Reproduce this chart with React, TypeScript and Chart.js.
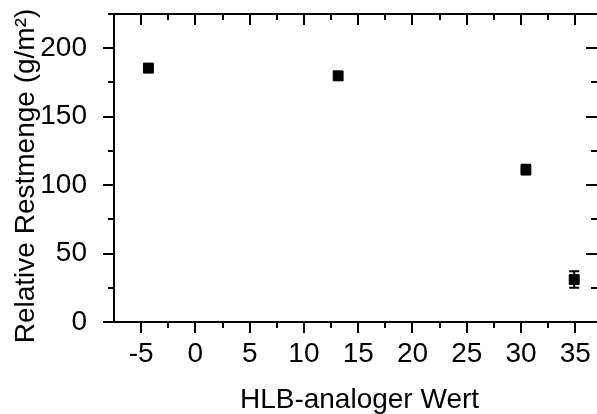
import React, { useEffect, useRef } from "react";
import { Chart, registerables } from "chart.js";

Chart.register(...registerables);

const xValues = [-4.33, 13.15, 30.45, 34.9];
const yValues = [185.5, 179.8, 111.3, 31.0];
const yErrors = [3, 3, 3.5, 6];
const xTickLabels = [-5, 0, 5, 10, 15, 20, 25, 30, 35];
const yTickLabels = [0, 50, 100, 150, 200];
const xTitle = "HLB-analoger Wert";
const yTitle = "Relative Restmenge (g/m²)";
const xMin = -7.5, xMax = 37, xStep = 2.5;
const yMin = 0, yMax = 225, yStep = 25;

const FONT = "'Liberation Sans', Arial, sans-serif";

const framePlugin = {
  id: "frame",
  afterDatasetsDraw(chart: any) {
    const { ctx, chartArea: a, scales } = chart;
    const xs = scales.x, ys = scales.y;
    ctx.save();
    ctx.strokeStyle = "#000";
    ctx.fillStyle = "#000";
    ctx.lineWidth = 2;
    // error bars
    const meta = chart.getDatasetMeta(0);
    meta.data.forEach((pt: any, i: number) => {
      const px = pt.x;
      const yT = ys.getPixelForValue(yValues[i] + yErrors[i]);
      const yB = ys.getPixelForValue(yValues[i] - yErrors[i]);
      ctx.beginPath();
      ctx.moveTo(px, yT); ctx.lineTo(px, yB);
      ctx.moveTo(px - 5, yT); ctx.lineTo(px + 5, yT);
      ctx.moveTo(px - 5, yB); ctx.lineTo(px + 5, yB);
      ctx.stroke();
    });
    // frame
    ctx.beginPath();
    ctx.moveTo(a.left, a.top); ctx.lineTo(a.right + 2, a.top);
    ctx.moveTo(a.left, a.top); ctx.lineTo(a.left, a.bottom);
    ctx.moveTo(a.left - 1, a.bottom); ctx.lineTo(a.right + 2, a.bottom);
    ctx.stroke();
    // x ticks
    for (let v = -5; v <= xMax + 1e-6; v += xStep) {
      const px = Math.round(xs.getPixelForValue(v));
      const major = Math.abs(v % 5) < 1e-6;
      const len = major ? 11 : 6;
      ctx.beginPath();
      ctx.moveTo(px, a.bottom); ctx.lineTo(px, a.bottom + len);
      ctx.moveTo(px, a.top); ctx.lineTo(px, a.top + len);
      ctx.stroke();
    }
    // y ticks
    for (let v = yMin; v <= yMax + 1e-6; v += yStep) {
      const py = Math.round(ys.getPixelForValue(v));
      const major = Math.abs(v % 50) < 1e-6;
      const len = major ? 11 : 6;
      ctx.beginPath();
      ctx.moveTo(a.left, py); ctx.lineTo(a.left - len, py);
      ctx.moveTo(a.right, py); ctx.lineTo(a.right - len, py);
      ctx.stroke();
    }
    // titles
    ctx.font = `28px ${FONT}`;
    ctx.textAlign = "center";
    ctx.textBaseline = "alphabetic";
    ctx.fillText(xTitle, (a.left + a.right) / 2 + 4, 408);
    ctx.save();
    ctx.translate(34, 176);
    ctx.rotate(-Math.PI / 2);
    ctx.font = `28px ${FONT}`;
    ctx.fillText(yTitle, 0, 0);
    ctx.restore();
    ctx.restore();
  },
};

export default function App() {
  const ref = useRef<HTMLCanvasElement>(null);
  useEffect(() => {
    document.body.style.margin = "0";
    const chart = new Chart(ref.current!, {
      type: "scatter",
      data: {
        datasets: [
          {
            data: xValues.map((x, i) => ({ x, y: yValues[i] })),
            pointStyle: "rect",
            pointRadius: 7,
            backgroundColor: "#000",
            borderColor: "#000",
            borderWidth: 1,
          },
        ],
      },
      options: {
        animation: false,
        responsive: false,
        maintainAspectRatio: false,
        layout: { autoPadding: false, padding: { top: 14, right: 0, left: 0, bottom: 0 } },
        plugins: { legend: { display: false }, tooltip: { enabled: false } },
        scales: {
          x: {
            type: "linear",
            min: xMin,
            max: xMax,
            grid: { display: false },
            border: { display: false },
            afterBuildTicks: (s: any) => { s.ticks = xTickLabels.map((value) => ({ value })); },
            ticks: {
              padding: 7,
              color: "#000",
              font: { family: FONT, size: 28 },
            },
            afterFit: (s: any) => {
              s.height = 92;
              s.paddingLeft = 0; s.paddingRight = 0; s.paddingTop = 0; s.paddingBottom = 0;
            },
          },
          y: {
            type: "linear",
            min: yMin,
            max: yMax,
            grid: { display: false },
            border: { display: false },
            afterBuildTicks: (s: any) => { s.ticks = yTickLabels.map((value) => ({ value })); },
            ticks: {
              padding: 19,
              color: "#000",
              font: { family: FONT, size: 28 },
            },
            afterFit: (s: any) => {
              s.width = 114;
              s.paddingLeft = 0; s.paddingRight = 0; s.paddingTop = 0; s.paddingBottom = 0;
            },
          },
        },
      },
      plugins: [framePlugin],
    });
    return () => chart.destroy();
  }, []);
  return <canvas ref={ref} width={597} height={414} style={{ display: "block" }} />;
}
